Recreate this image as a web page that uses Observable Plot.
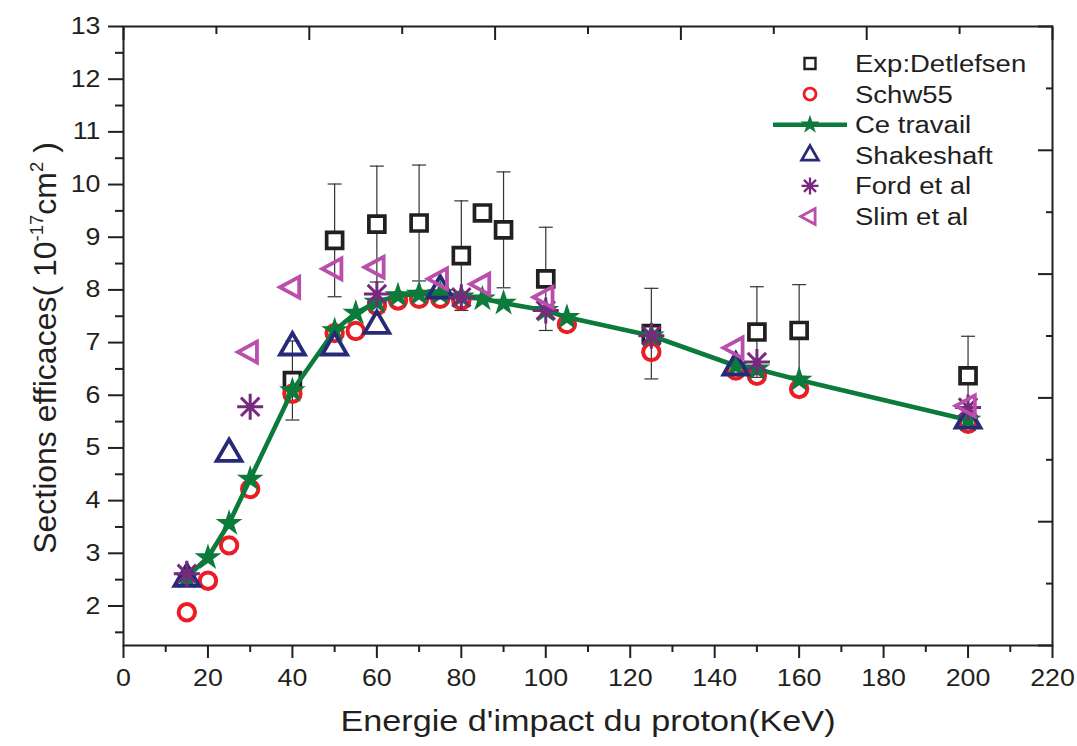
<!DOCTYPE html>
<html><head><meta charset="utf-8">
<script src="https://cdn.jsdelivr.net/npm/d3@7"></script>
<script src="https://cdn.jsdelivr.net/npm/@observablehq/plot@0.6"></script>
<style>
body{margin:0;background:#fff;}
#wrap{position:relative;width:1077px;height:746px;font-family:"Liberation Sans",Arial,sans-serif;}
#legend{position:absolute;left:0;top:0;pointer-events:none;}
</style></head><body><div id="wrap"></div>
<script>
// ---- data ----
const expX   = [40, 50, 60, 70, 80, 85, 90, 100, 125, 150, 160, 200];
const expY   = [6.28, 8.94, 9.25, 9.27, 8.65, 9.46, 9.14, 8.21, 7.17, 7.20, 7.23, 6.37];
const expErr = [0.75, 1.07, 1.10, 1.10, 1.04, 0, 1.10, 0.98, 0.86, 0.86, 0.87, 0.75];

const schwX = [15, 20, 25, 30, 40, 50, 55, 60, 65, 70, 75, 80, 105, 125, 145, 150, 160, 200];
const schwY = [1.88, 2.48, 3.15, 4.22, 6.03, 7.18, 7.22, 7.70, 7.80, 7.83, 7.83, 7.80, 7.35, 6.82, 6.47, 6.37, 6.12, 5.46];

const ceX = [15, 20, 25, 30, 40, 50, 55, 60, 65, 70, 75, 80, 85, 90, 100, 105, 125, 145, 150, 160, 200];
const ceY = [2.55, 2.92, 3.57, 4.41, 6.09, 7.23, 7.56, 7.77, 7.89, 7.92, 7.93, 7.87, 7.83, 7.75, 7.61, 7.48, 7.13, 6.56, 6.50, 6.29, 5.53];

const shakeX = [15, 25, 40, 50, 60, 75, 145, 200];
const shakeY = [2.52, 4.89, 6.91, 6.91, 7.32, 7.99, 6.53, 5.52];

const fordX = [15, 30, 60, 80, 100, 125, 150, 200];
const fordY = [2.61, 5.78, 7.92, 7.86, 7.61, 7.13, 6.63, 5.77];

const slimX = [30, 40, 50, 60, 75, 85, 100, 145, 200];
const slimY = [6.82, 8.05, 8.40, 8.43, 8.21, 8.11, 7.86, 6.90, 5.80];

const seriesNames = ["Exp:Detlefsen", "Schw55", "Ce travail", "Shakeshaft", "Ford et al", "Slim et al"];

const xTicks = [0, 20, 40, 60, 80, 100, 120, 140, 160, 180, 200, 220];
const xMinorTicks = [10, 30, 50, 70, 90, 110, 130, 150, 170, 190, 210];
const yTicks = [2, 3, 4, 5, 6, 7, 8, 9, 10, 11, 12, 13];
const yMinorTicks = [1.5, 2.5, 3.5, 4.5, 5.5, 6.5, 7.5, 8.5, 9.5, 10.5, 11.5, 12.5];
const topMajorTicks = [0, 44, 88, 132, 176, 220];
const topMinorTicks = [22, 66, 110, 154, 198];
const rightMajorTicks = [1.25, 3.6, 5.95, 8.3, 10.65, 13];
const rightMinorTicks = [2.425, 4.775, 7.125, 9.475, 11.825];

const xTitle = "Energie d'impact du proton(KeV)";
const yTitleParts = ["Sections efficaces( 10", "-17", "cm", "2", " )"];

// ---- styles ----
const ink = "#231f20";
const colors = {exp: "#231f20", schw: "#ed1c24", ce: "#0b7a3b", shake: "#262a78", ford: "#77287f", slim: "#b94fab"};
const font = '"Liberation Sans", Arial, sans-serif';
const stretch = 1.14; // the reference text is horizontally widened

// ---- symbols ----
const asterisk8 = {draw(ctx, size) {
  const r = Math.sqrt(size / Math.PI), d = r * Math.SQRT1_2;
  ctx.moveTo(-r, 0); ctx.lineTo(r, 0);
  ctx.moveTo(0, -r); ctx.lineTo(0, r);
  ctx.moveTo(-d, -d); ctx.lineTo(d, d);
  ctx.moveTo(-d, d); ctx.lineTo(d, -d);
}};
const triLeft = {draw(ctx, size) {
  const r = Math.sqrt(size / Math.PI);
  ctx.moveTo(-1.1 * r, 0); ctx.lineTo(0.6 * r, -0.92 * r); ctx.lineTo(0.6 * r, 0.92 * r); ctx.closePath();
}};
const capLine = {draw(ctx, size) {
  const r = Math.sqrt(size / Math.PI);
  ctx.moveTo(-r, 0); ctx.lineTo(r, 0);
}};

const zip = (X, Y) => X.map((x, i) => ({x, y: Y[i]}));
const exp = expX.map((x, i) => ({x, y: expY[i], err: expErr[i]}));
const expBars = exp.filter(d => d.err > 0);
const schw = zip(schwX, schwY);
const ce = zip(ceX, ceY);
const shake = zip(shakeX, shakeY);
const ford = zip(fordX, fordY);
const slim = zip(slimX, slimY);

const chart = Plot.plot({
  width: 1077, height: 746,
  marginLeft: 123, marginRight: 25, marginTop: 26, marginBottom: 101,
  x: {domain: [0, 220]},
  y: {domain: [1.25, 13]},
  style: {fontFamily: font, color: ink, background: "white", overflow: "visible"},
  marks: [
    // error bars
    Plot.ruleX(expBars, {x: "x", y1: d => d.y - d.err, y2: d => d.y + d.err, stroke: "#333", strokeWidth: 1.2}),
    Plot.dot(expBars, {x: "x", y: d => d.y + d.err, symbol: capLine, r: 7, stroke: "#333", strokeWidth: 1.2, fill: "none"}),
    Plot.dot(expBars, {x: "x", y: d => d.y - d.err, symbol: capLine, r: 7, stroke: "#333", strokeWidth: 1.2, fill: "none"}),
    // series
    Plot.dot(exp, {x: "x", y: "y", symbol: "square", r: 9, stroke: colors.exp, strokeWidth: 3.7, fill: "white"}),
    Plot.dot(schw, {x: "x", y: "y", symbol: "circle", r: 8.2, stroke: colors.schw, strokeWidth: 4, fill: "none"}),
    Plot.line(ce, {x: "x", y: "y", stroke: colors.ce, strokeWidth: 4.6}),
    Plot.dot(ce, {x: "x", y: "y", symbol: "star", r: 8.4, fill: colors.ce, stroke: "none"}),
    Plot.dot(shake, {x: "x", y: "y", symbol: "triangle", r: 9.2, stroke: colors.shake, strokeWidth: 3.8, fill: "none"}),
    Plot.dot(ford, {x: "x", y: "y", symbol: asterisk8, r: 13, stroke: colors.ford, strokeWidth: 3, fill: "none"}),
    Plot.dot(slim, {x: "x", y: "y", symbol: triLeft, r: 11.3, stroke: colors.slim, strokeWidth: 3.8, fill: "none"}),
    // frame and axes
    Plot.frame({stroke: ink, strokeWidth: 2}),
    Plot.axisX({anchor: "bottom", ticks: xTicks, tickSize: 13, tickPadding: 11, fontSize: 23.5, stroke: ink, strokeWidth: 2, fill: ink, label: null}),
    Plot.axisX({anchor: "bottom", ticks: xMinorTicks, tickSize: 7, stroke: ink, strokeWidth: 2, fill: "none", label: null}),
    Plot.axisY({anchor: "left", ticks: yTicks, tickSize: 15, tickPadding: 8, fontSize: 23.5, stroke: ink, strokeWidth: 2, fill: ink, label: null}),
    Plot.axisY({anchor: "left", ticks: yMinorTicks, tickSize: 8, stroke: ink, strokeWidth: 2, fill: "none", label: null}),
    Plot.axisX({anchor: "top", ticks: topMajorTicks, tickSize: -13, stroke: ink, strokeWidth: 2, fill: "none", label: null}),
    Plot.axisX({anchor: "top", ticks: topMinorTicks, tickSize: -7, stroke: ink, strokeWidth: 2, fill: "none", label: null}),
    Plot.axisY({anchor: "right", ticks: rightMajorTicks, tickSize: -15, stroke: ink, strokeWidth: 2, fill: "none", label: null}),
    Plot.axisY({anchor: "right", ticks: rightMinorTicks, tickSize: -7, stroke: ink, strokeWidth: 2, fill: "none", label: null}),
    // titles
    Plot.text([xTitle], {text: d => d, frameAnchor: "bottom", dy: 85, fontSize: 30, fill: ink}),
    Plot.text([yTitleParts.join("")], {text: d => d, frameAnchor: "left", textAnchor: "middle", dx: -78, dy: 12, rotate: -90, fontSize: 32, fill: ink})
  ]
});

document.getElementById("wrap").appendChild(chart);

// widen horizontal texts like the reference
d3.select(chart).selectAll("text").each(function () {
  const t = this.textContent;
  if (t === yTitleParts.join("")) return;
  const L = this.getComputedTextLength();
  if (L > 0) {
    this.setAttribute("textLength", L * stretch);
    this.setAttribute("lengthAdjust", "spacingAndGlyphs");
  }
});

// superscripts in the y title
d3.select(chart).selectAll("text").filter(function () { return this.textContent === yTitleParts.join(""); })
  .each(function () {
    const yt = d3.select(this);
    yt.text(null);
    yt.append("tspan").text(yTitleParts[0]);
    yt.append("tspan").attr("font-size", 18.5).attr("dy", -13).text(yTitleParts[1]);
    yt.append("tspan").attr("font-size", 32).attr("dy", 13).text(yTitleParts[2]);
    yt.append("tspan").attr("font-size", 18.5).attr("dy", -13).text(yTitleParts[3]);
    yt.append("tspan").attr("font-size", 32).attr("dy", 13).text(yTitleParts[4]);
  });

// ---- legend ----
const legendSymbols = [
  {sym: d3.symbolSquare, r: 6.2, stroke: colors.exp, fill: "none", sw: 2.4},
  {sym: d3.symbolCircle, r: 6, stroke: colors.schw, fill: "none", sw: 2.8},
  {sym: d3.symbolStar, r: 6, stroke: "none", fill: colors.ce, sw: 0, line: true},
  {sym: d3.symbolTriangle, r: 6.2, stroke: colors.shake, fill: "none", sw: 2.8},
  {sym: asterisk8, r: 8.5, stroke: colors.ford, fill: "none", sw: 2.3},
  {sym: triLeft, r: 8.5, stroke: colors.slim, fill: "none", sw: 2.8}
];
const leg = d3.select("#wrap").append("svg").attr("id", "legend").attr("width", 1077).attr("height", 746);
const symX = 810, textX = 855, rowY0 = 63.5, rowStep = 30.6;
seriesNames.forEach((name, i) => {
  const s = legendSymbols[i];
  const g = leg.append("g").attr("transform", `translate(0,${rowY0 + i * rowStep})`);
  if (s.line) g.append("line").attr("x1", 773).attr("x2", 847).attr("stroke", colors.ce).attr("stroke-width", 4.5);
  g.append("path").attr("transform", `translate(${symX},0)`)
    .attr("d", d3.symbol(s.sym, Math.PI * s.r * s.r)())
    .attr("fill", s.fill).attr("stroke", s.stroke).attr("stroke-width", s.sw);
  const tx = g.append("text").attr("x", textX).attr("dy", "0.36em")
    .attr("font-family", font).attr("font-size", 23.5).attr("fill", ink).text(name);
  const L = tx.node().getComputedTextLength();
  tx.attr("textLength", L * 1.17).attr("lengthAdjust", "spacingAndGlyphs");
});
</script>
</body></html>
